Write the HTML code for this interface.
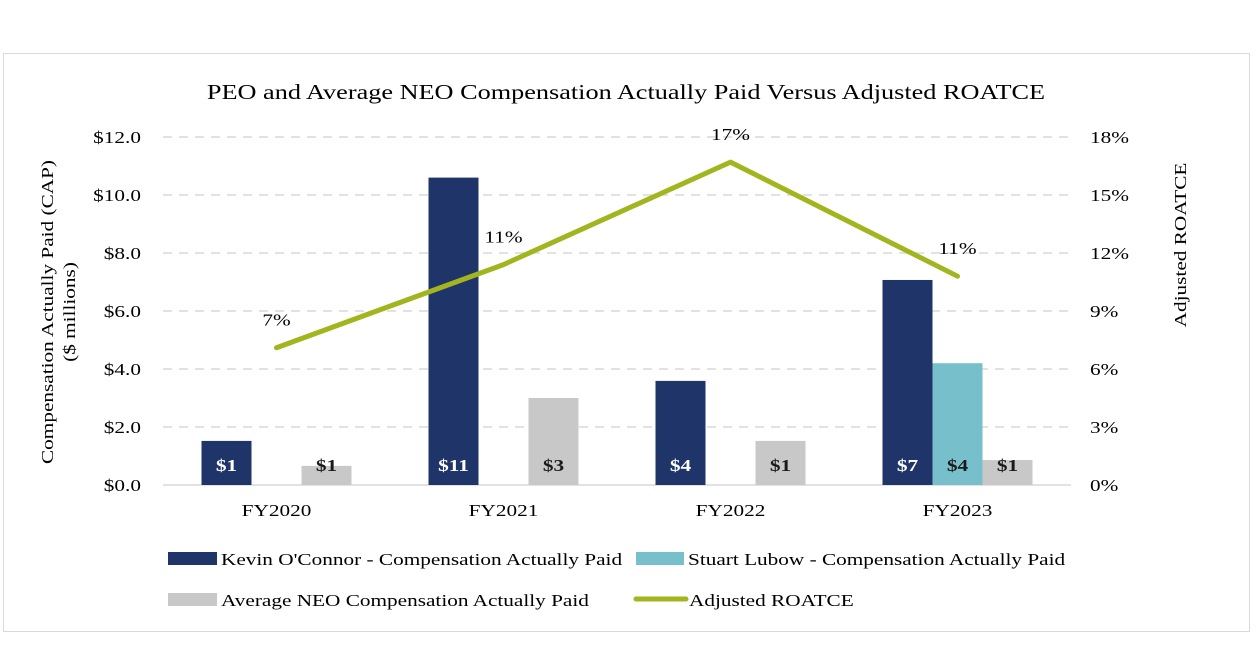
<!DOCTYPE html>
<html><head><meta charset="utf-8"><style>
body{margin:0;background:#fff;width:1258px;height:664px;overflow:hidden;font-family:"Liberation Serif",serif;}
svg text{font-family:"Liberation Serif",serif;}
</style></head><body>
<svg id="svg" width="1258" height="664" xmlns="http://www.w3.org/2000/svg">
<rect x="3.5" y="53.5" width="1246" height="578" fill="#fff" stroke="#d9d9d9"/>
<text x="626" y="99" font-size="21" text-anchor="middle" fill="#000">PEO and Average NEO Compensation Actually Paid Versus Adjusted ROATCE</text>
<g id="grid"></g><g id="bars"></g><g id="line"></g><g id="labels"></g>
<text transform="translate(53,312) rotate(-90)" font-size="17" text-anchor="middle">Compensation Actually Paid (CAP)</text>
<text transform="translate(75,312) rotate(-90)" font-size="17" text-anchor="middle">($ millions)</text>
<text transform="translate(1186,245) rotate(-90)" font-size="17" text-anchor="middle">Adjusted ROATCE</text>
<g font-size="17">
<rect x="168" y="552" width="49" height="13" fill="#1f3468"/>
<text x="221" y="565">Kevin O'Connor - Compensation Actually Paid</text>
<rect x="636" y="552" width="48" height="13" fill="#78bfcc"/>
<text x="688" y="565">Stuart Lubow - Compensation Actually Paid</text>
<rect x="168" y="593" width="49" height="13" fill="#c8c8c8"/>
<text x="221" y="606">Average NEO Compensation Actually Paid</text>
<line x1="636" y1="599" x2="686" y2="599" stroke="#a2b51e" stroke-width="5" stroke-linecap="round"/>
<text x="689" y="606">Adjusted ROATCE</text>
</g>
</svg>
<script>
const categories=["FY2020","FY2021","FY2022","FY2023"];
const kevin=[1.52,10.6,3.59,7.07];
const stuart=[null,null,null,4.2];
const avgNeo=[0.66,3.0,1.52,0.86];
const roatce=[7.1,11.4,16.7,10.8];
const kevinLabels=["$1","$11","$4","$7"];
const stuartLabels=[null,null,null,"$4"];
const avgLabels=["$1","$3","$1","$1"];
const roatceLabels=["7%","11%","17%","11%"];
const leftTicks=[0,2,4,6,8,10,12];
const rightTicks=[0,3,6,9,12,15,18];
const NS="http://www.w3.org/2000/svg";
const X0=163,X1=1071,Y0=485,Y1=137;
const band=(X1-X0)/categories.length;
const xc=i=>X0+band*(i+0.5);
const yL=v=>Y0-(v/12)*(Y0-Y1);
const yR=v=>Y0-(v/18)*(Y0-Y1);
function mk(tag,attrs,parent,txt){const e=document.createElementNS(NS,tag);for(const k in attrs)e.setAttribute(k,attrs[k]);if(txt!=null)e.textContent=txt;document.getElementById(parent).appendChild(e);return e;}
leftTicks.forEach(t=>{
  const y=yL(t);
  const g=mk('line',{x1:X0,x2:X1,y1:y,y2:y,stroke:'#d9d9d9','stroke-width':1.5,'stroke-dasharray':t===0?'none':'9,7'},'grid');
  
  
  const l=mk('text',{x:141,y:y+6,'text-anchor':'end','font-size':17},'grid','$'+t.toFixed(1));
  
  
});
rightTicks.forEach(t=>{
  const l=mk('text',{x:1090,y:yR(t)+6,'font-size':17},'grid',t+'%');
  
  
});
const bw=50;
categories.forEach((c,i)=>{
  const cx=xc(i);
  const l=mk('text',{x:cx,y:516,'text-anchor':'middle','font-size':17},'labels',c);
  
  
  const series=[[kevin,'#1f3468',kevinLabels,'#fff','bar-kevin'],[stuart,'#78bfcc',stuartLabels,'#1a1a1a','bar-stuart'],[avgNeo,'#c8c8c8',avgLabels,'#1a1a1a','bar-avg-neo']];
  series.forEach((s,j)=>{
    const v=s[0][i]; if(v==null)return;
    const x=cx+(j-1)*bw-bw/2;
    const r=mk('rect',{x:x,y:yL(v),width:bw,height:Y0-yL(v),fill:s[1]},'bars');
    
    
    const t=mk('text',{x:x+bw/2,y:471,'text-anchor':'middle','font-size':17,'font-weight':'bold',fill:s[3]},'labels',s[2][i]);
    
    
  });
});
const pts=roatce.map((v,i)=>xc(i)+','+yR(v)).join(' ');
const pl=mk('polyline',{points:pts,fill:'none',stroke:'#a2b51e','stroke-width':5,'stroke-linejoin':'round','stroke-linecap':'round'},'line');


roatce.forEach((v,i)=>{
  const t=mk('text',{x:xc(i),y:yR(v)-22,'text-anchor':'middle','font-size':17},'labels',roatceLabels[i]);
  
  
});
document.querySelectorAll('#svg text').forEach(t=>{
  const len=t.getComputedTextLength();
  t.setAttribute('textLength',(len*1.25).toFixed(1));
  t.setAttribute('lengthAdjust','spacingAndGlyphs');
});
</script>
</body></html>
